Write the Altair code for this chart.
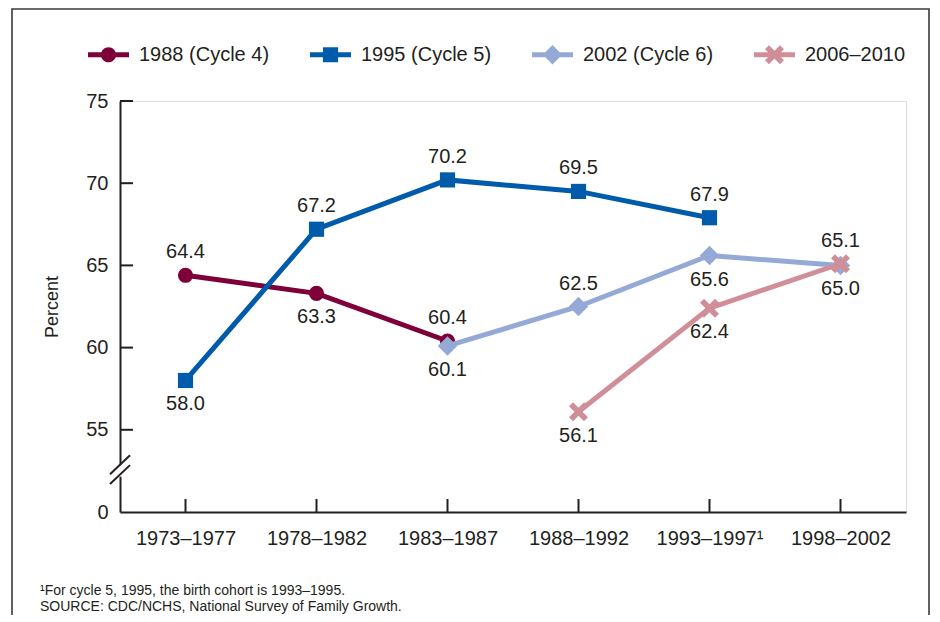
import altair as alt
import pandas as pd

# ---------------- data ----------------
cohorts = ["1973–1977", "1978–1982", "1983–1987", "1988–1992", "1993–1997¹", "1998–2002"]
series_names = ["1988 (Cycle 4)", "1995 (Cycle 5)", "2002 (Cycle 6)", "2006–2010"]

values_1988 = [64.4, 63.3, 60.4, None, None, None]
values_1995 = [58.0, 67.2, 70.2, 69.5, 67.9, None]
values_2002 = [None, None, 60.1, 62.5, 65.6, 65.0]
values_2006 = [None, None, None, 56.1, 62.4, 65.1]

# where each value label sits relative to its point
labelpos_1988 = ["above", "below", "above", None, None, None]
labelpos_1995 = ["below", "above", "above", "above", "above", None]
labelpos_2002 = [None, None, "below", "above", "below", "below"]
labelpos_2006 = [None, None, None, "below", "below", "above"]

y_tick_values = [55, 60, 65, 70, 75]
y_axis_values = [50, 55, 60, 65, 70, 75]   # 50 is the broken-axis position labelled "0"
y_title = "Percent"
footnotes = ["¹For cycle 5, 1995, the birth cohort is 1993–1995.",
             "SOURCE: CDC/NCHS, National Survey of Family Growth."]

# ---------------- styles ----------------
FONT = "Liberation Sans"
TXT = "#231F20"
FS = 20
colors = ["#7E0038", "#005BAA", "#94A9D6", "#D08E98"]
X_PATH = ("M-0.95,-0.55 L-0.55,-0.95 L0.95,0.55 L0.55,0.95 Z "
          "M-0.55,0.95 L-0.95,0.55 L0.55,-0.95 L0.95,-0.55 Z")
shapes = ["circle", "square", "diamond", X_PATH]
sizes = [230, 230, 380, 400]

LINE = "M-1,-0.12 L1,-0.12 L1,0.12 L-1,0.12 Z "
legend_paths = [
    LINE + "M-0.37,0 A0.37,0.37 0 1 1 0.37,0 A0.37,0.37 0 1 1 -0.37,0 Z",
    LINE + "M-0.37,-0.37 L0.37,-0.37 L0.37,0.37 L-0.37,0.37 Z",
    LINE + "M0,-0.47 L0.47,0 L0,0.47 L-0.47,0 Z",
    LINE + ("M-0.46,-0.27 L-0.27,-0.46 L0.46,0.27 L0.27,0.46 Z "
            "M-0.27,0.46 L-0.46,0.27 L0.27,-0.46 L0.46,-0.27 Z"),
]

W, H = 786, 411

all_values = [values_1988, values_1995, values_2002, values_2006]
all_pos = [labelpos_1988, labelpos_1995, labelpos_2002, labelpos_2006]

rows = []
for name, vals, poss in zip(series_names, all_values, all_pos):
    for c, v, p in zip(cohorts, vals, poss):
        if v is not None:
            rows.append({"series": name, "cohort": c, "value": v, "pos": p})
df = pd.DataFrame(rows)

xscale = alt.Scale(domain=cohorts, type="point", padding=0.5)
yscale = alt.Scale(domain=[50, 75], zero=False, nice=False)
xaxis = alt.Axis(title=None, labelFontSize=FS, labelFont=FONT, labelColor=TXT,
                 ticks=False, labelPadding=16, domainColor=TXT, domainWidth=2,
                 grid=False, labelAngle=0)
yaxis = alt.Axis(title=y_title, values=y_axis_values,
                 labelExpr="datum.value == 50 ? '0' : datum.label",
                 labelFontSize=FS, labelFont=FONT, labelColor=TXT, ticks=False,
                 labelPadding=12, domainColor=TXT, domainWidth=2, grid=False,
                 titleFontSize=18, titleFont=FONT, titleFontWeight="normal",
                 titleColor=TXT, titlePadding=24)

X = lambda: alt.X("cohort:N", scale=xscale, axis=xaxis, sort=cohorts)
Y = lambda: alt.Y("value:Q", scale=yscale, axis=yaxis)

layers = []

# outer frame
frame = alt.Chart(pd.DataFrame({"k": [0]})).mark_rect(
    filled=False, stroke="#3a3a3a", strokeWidth=1.6
).encode(x=alt.value(-108), x2=alt.value(W + 23), y=alt.value(-92), y2=alt.value(H + 200))
layers.append(frame)

# footnotes (one text layer per line)
for i, line in enumerate(footnotes):
    layers.append(alt.Chart(pd.DataFrame({"line": [line]})).mark_text(
        align="left", baseline="middle", fontSize=14, font=FONT, color=TXT
    ).encode(text="line:N", x=alt.value(-80), y=alt.value(H + 79 + 16 * i)))

# inward y ticks
ytick_df = pd.DataFrame({"value": y_tick_values})
layers.append(alt.Chart(ytick_df).mark_rule(color=TXT, strokeWidth=2).encode(
    y=Y(), x=alt.value(0), x2=alt.value(13)))

# inward x ticks
xtick_df = pd.DataFrame({"cohort": cohorts})
layers.append(alt.Chart(xtick_df).mark_rule(color=TXT, strokeWidth=2).encode(
    x=X(), y=alt.value(H), y2=alt.value(H - 13)))

# axis break: white gap and two slashes
gap_df = pd.DataFrame({"value": [52.15], "value2": [52.85]})
layers.append(alt.Chart(gap_df).mark_rule(color="white", strokeWidth=6).encode(
    y=Y(), y2="value2", x=alt.value(0)))
slash_df = pd.DataFrame({"value": [52.3, 51.7], "value2": [53.45, 52.85]})
layers.append(alt.Chart(slash_df).mark_rule(color=TXT, strokeWidth=2).encode(
    y=Y(), y2="value2", x=alt.value(-10), x2=alt.value(10)))

# series lines + markers
for name, col, shp, sz in zip(series_names, colors, shapes, sizes):
    sub = df[df.series == name]
    layers.append(alt.Chart(sub).mark_line(color=col, strokeWidth=5).encode(
        x=X(), y=Y(), order=alt.Order("cohort:N")))
    layers.append(alt.Chart(sub).mark_point(
        filled=True, color=col, shape=shp, size=sz, opacity=1, strokeWidth=0).encode(
        x=X(), y=Y()))

# value labels
for pos, dy in [("above", -23), ("below", 24)]:
    layers.append(alt.Chart(df[df.pos == pos]).mark_text(
        dy=dy, fontSize=FS, font=FONT, color=TXT, baseline="middle", align="center").encode(
        x=X(), y=Y(), text=alt.Text("value:Q", format=".1f")))

# legend (drawn by Vega-Lite from an empty layer)
leg = alt.Legend(title=None, orient="none", legendX=-32, legendY=-67,
                 direction="horizontal", symbolSize=1681, labelFontSize=FS,
                 labelFont=FONT, labelColor=TXT, labelOffset=10, columnPadding=40,
                 padding=0, symbolStrokeWidth=0, labelLimit=300)
layers.append(alt.Chart(df).transform_filter("false").mark_point(
    filled=True, opacity=1, strokeWidth=0).encode(
    x=X(), y=Y(),
    color=alt.Color("series:N", scale=alt.Scale(domain=series_names, range=colors), legend=leg),
    shape=alt.Shape("series:N", scale=alt.Scale(domain=series_names, range=legend_paths), legend=leg),
))

chart = alt.layer(*layers).properties(
    width=W, height=H,
    autosize=alt.AutoSizeParams(type="none"),
    padding={"left": 112, "top": 93, "right": 26, "bottom": 103},
).configure_view(stroke=None).configure(background="white")

chart.save("out.html", embed_options={"renderer": "svg", "actions": False})
